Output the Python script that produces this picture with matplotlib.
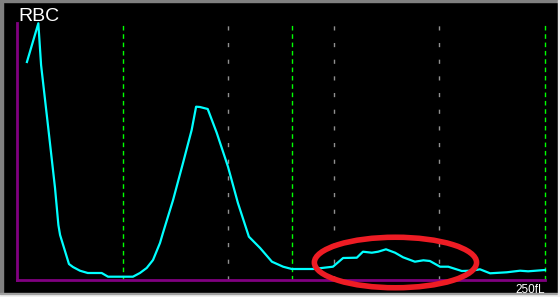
import matplotlib.pyplot as plt
from matplotlib.patches import Ellipse, Rectangle

# RBC histogram (x in fL, y = relative count)
size_fl = [4.7, 10.1, 11.4, 14.8, 18.0, 19.6, 20.4, 24.6, 26.5, 29.8, 33.5, 40.1,
           43.1, 54.9, 58.2, 61.4, 64.4, 67.7, 69.1, 73.9, 78.6, 82.7, 84.8, 86.6,
           90.3, 94.6, 99.9, 104.6, 109.8, 115.1, 120.7, 126.0, 130.1, 140.2, 149.6,
           154.4, 160.9, 163.8, 168.0, 171.0, 174.7, 179.0, 182.8, 188.4, 192.4,
           195.5, 200.3, 204.2, 210.6, 215.3, 219.2, 224.0, 231.9, 238.2, 242.0, 250.0]
count = [218, 256.7, 215, 152, 92, 55, 45, 16, 13, 9.3, 7, 7,
         3.3, 3.3, 7, 12, 20, 37, 47, 80, 117, 150, 173.3, 173,
         171, 147, 113.3, 77, 43.3, 32, 18.3, 13.3, 11, 11, 13.3,
         22, 22.3, 28.3, 27.3, 28.3, 30.7, 27.3, 22.7, 18.3, 19.7,
         19, 13.3, 13.3, 9, 9.3, 10.7, 6.7, 7.7, 9.3, 8.7, 10]

green_lines = [50, 130, 250]
gray_lines = [100, 150, 200]

# highlighted region (centre, width, height)
mark_center = (179.2, 17.5)
mark_w = 76.8
mark_h = 50.5

fig = plt.figure(figsize=(5.6, 2.97), dpi=100, facecolor='black')

# window frame bits
fig.patches.append(Rectangle((0, 0), 2.5 / 560, 1, transform=fig.transFigure, color='#808080'))
fig.patches.append(Rectangle((0, 1 - 1.5 / 297), 1, 1.5 / 297, transform=fig.transFigure, color='#808080'))
fig.patches.append(Rectangle((0, 0), 1, 3.5 / 297, transform=fig.transFigure, color='#f0f0f0'))
fig.patches.append(Rectangle((0, 3.5 / 297), 1, 1 / 297, transform=fig.transFigure, color='#a0a0a0'))
fig.patches.append(Rectangle((1 - 2.5 / 560, 0), 2.5 / 560, 1, transform=fig.transFigure, color='#f0f0f0'))

ax = fig.add_axes([17 / 560, 17 / 297, 528 / 560, 257 / 297])
ax.set_facecolor('black')
ax.set_xlim(0, 250)
ax.set_ylim(0, 257)

for x in green_lines:
    ax.plot([x, x], [0, 257], color='#00ff00', lw=1, dashes=(3.3, 2.7), clip_on=False)
for x in gray_lines:
    ax.plot([x, x], [0, 257], color='#909090', lw=1, dashes=(3, 9), clip_on=False)

ax.plot(size_fl, count, color='#00ffff', lw=1.6, clip_on=False)

for s in ['top', 'right']:
    ax.spines[s].set_visible(False)
for s in ['left', 'bottom']:
    ax.spines[s].set_color('#800080')
    ax.spines[s].set_linewidth(2)
ax.set_xticks([])
ax.set_yticks([])

ax.add_patch(Ellipse(mark_center, mark_w, mark_h, fill=False, edgecolor='#ee1c24',
                     lw=4, clip_on=False, zorder=5))

fig.text(18 / 560, 1 - 21 / 297, 'RBC', color='white', fontsize=14,
         family='Liberation Sans', ha='left', va='baseline')
fig.text(545 / 560, 1 - 293 / 297, '250fL', color='white', fontsize=8.5,
         family='Liberation Sans', ha='right', va='baseline')

fig.savefig('out.png', facecolor=fig.get_facecolor())
